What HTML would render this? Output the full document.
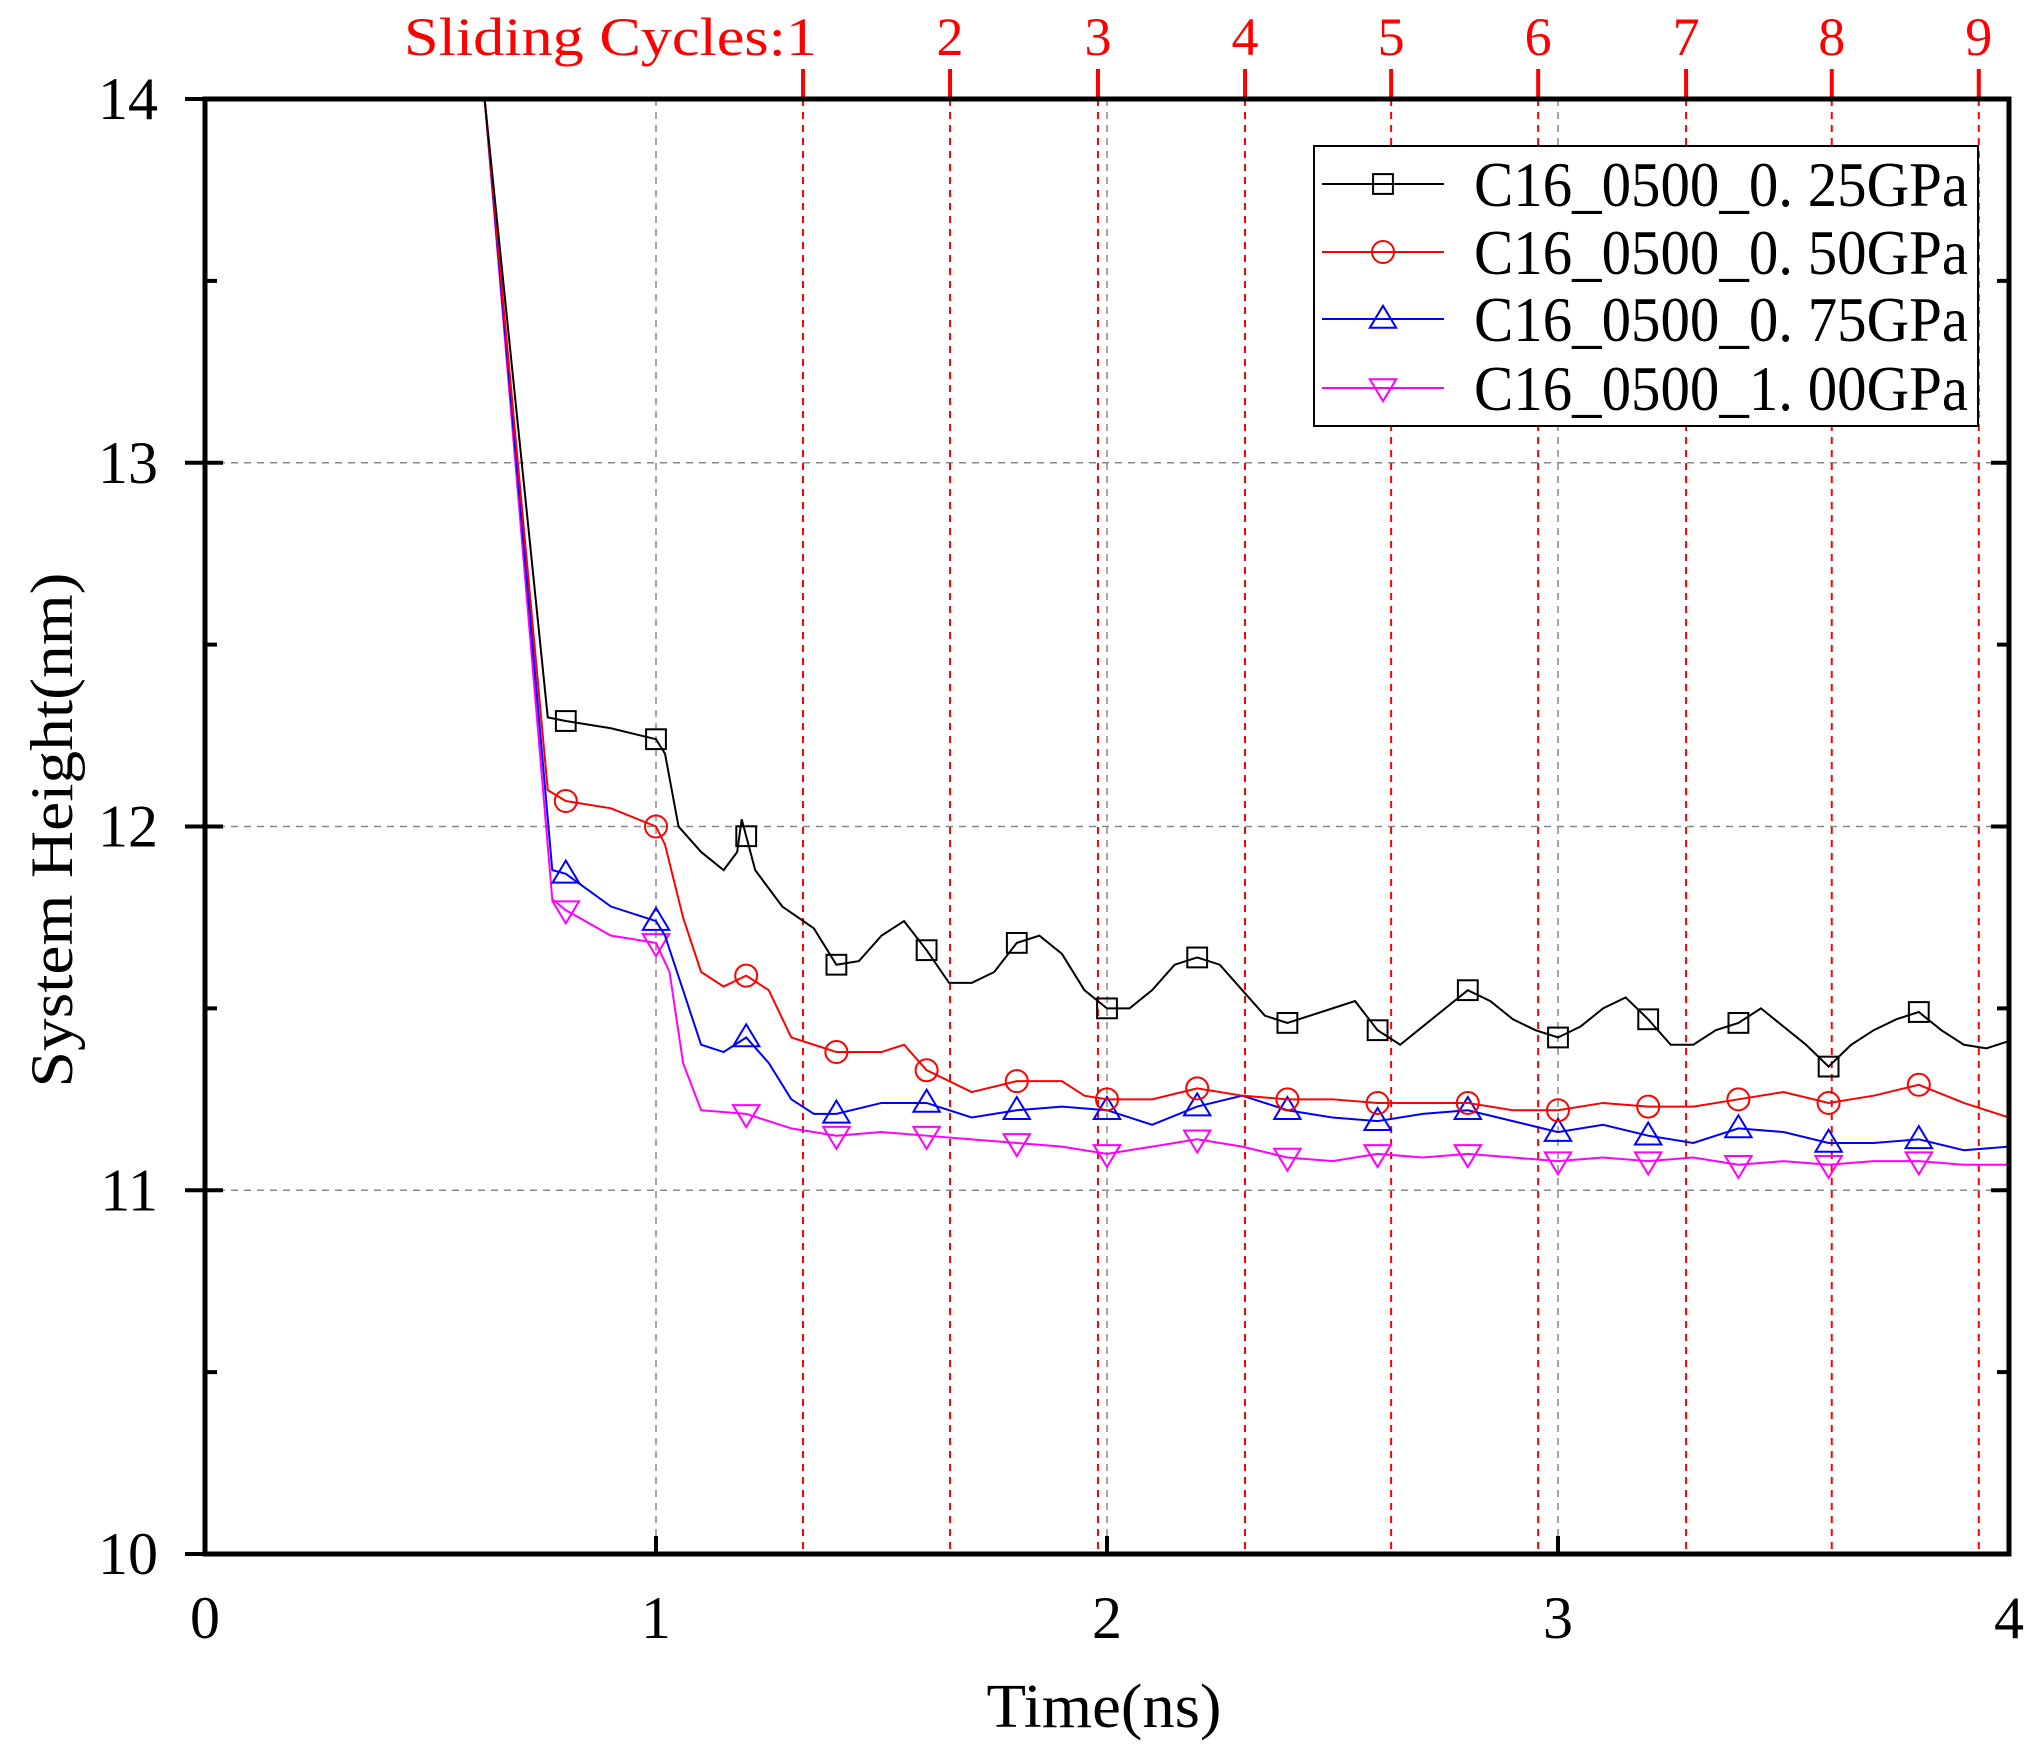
<!DOCTYPE html>
<html><head><meta charset="utf-8"><style>
html,body{margin:0;padding:0;background:#fff;}
svg{display:block;}
text{font-family:"Liberation Serif","Noto Serif CJK SC",serif;}
</style></head><body>
<svg id="chart" width="2044" height="1764" viewBox="0 0 2044 1764" xmlns="http://www.w3.org/2000/svg"></svg>
<script>
const xTicks=[0,1,2,3,4];
const yTicks=[10,11,12,13,14];
const cycleTimes=[1.326,1.652,1.98,2.306,2.63,2.956,3.284,3.607,3.933];
const cycleLabels=["Sliding Cycles:1","2","3","4","5","6","7","8","9"];
const seriesNames=["C16_0500_0. 25GPa","C16_0500_0. 50GPa","C16_0500_0. 75GPa","C16_0500_1. 00GPa"];
const markerTimes=[0.8,1.0,1.2,1.4,1.6,1.8,2.0,2.2,2.4,2.6,2.8,3.0,3.2,3.4,3.6,3.8];
const tBlack=[0.62,0.76,0.8,0.9,1.0,1.02,1.05,1.1,1.15,1.18,1.19,1.22,1.28,1.35,1.4,1.45,1.5,1.55,1.6,1.65,1.7,1.75,1.8,1.85,1.9,1.95,2.0,2.05,2.1,2.15,2.2,2.25,2.3,2.35,2.4,2.45,2.5,2.55,2.6,2.65,2.7,2.75,2.8,2.85,2.9,2.95,3.0,3.05,3.1,3.15,3.2,3.25,3.3,3.35,3.4,3.45,3.5,3.55,3.6,3.65,3.7,3.75,3.8,3.85,3.9,3.95,4.0];
const hBlack=[14,12.3,12.29,12.27,12.24,12.2,12.0,11.93,11.88,11.93,12.02,11.88,11.78,11.72,11.62,11.63,11.7,11.74,11.66,11.57,11.57,11.6,11.68,11.7,11.65,11.55,11.5,11.5,11.55,11.62,11.64,11.62,11.55,11.48,11.46,11.48,11.5,11.52,11.44,11.4,11.45,11.5,11.55,11.52,11.47,11.44,11.42,11.45,11.5,11.53,11.47,11.4,11.4,11.44,11.46,11.5,11.45,11.4,11.34,11.4,11.44,11.47,11.49,11.44,11.4,11.39,11.41];
const tRed=[0.62,0.76,0.8,0.9,1.0,1.02,1.06,1.1,1.15,1.2,1.25,1.3,1.35,1.4,1.5,1.55,1.6,1.65,1.7,1.8,1.9,1.95,2.0,2.1,2.2,2.3,2.4,2.5,2.6,2.7,2.8,2.9,3.0,3.1,3.2,3.3,3.4,3.5,3.6,3.7,3.8,3.9,4.0];
const hRed=[14,12.1,12.07,12.05,12.0,11.95,11.75,11.6,11.56,11.59,11.55,11.42,11.4,11.38,11.38,11.4,11.33,11.3,11.27,11.3,11.3,11.26,11.25,11.25,11.28,11.26,11.25,11.25,11.24,11.24,11.24,11.22,11.22,11.24,11.23,11.23,11.25,11.27,11.24,11.26,11.29,11.24,11.2];
const tBlue=[0.62,0.77,0.8,0.9,1.0,1.02,1.06,1.1,1.15,1.2,1.25,1.3,1.35,1.4,1.5,1.6,1.7,1.8,1.9,2.0,2.1,2.2,2.3,2.4,2.5,2.6,2.7,2.8,2.9,3.0,3.1,3.2,3.3,3.4,3.5,3.6,3.7,3.8,3.9,4.0];
const hBlue=[14,11.88,11.87,11.78,11.74,11.7,11.55,11.4,11.38,11.42,11.35,11.25,11.21,11.21,11.24,11.24,11.2,11.22,11.23,11.22,11.18,11.23,11.26,11.22,11.2,11.19,11.21,11.22,11.19,11.16,11.18,11.15,11.13,11.17,11.16,11.13,11.13,11.14,11.11,11.12];
const tMag=[0.62,0.77,0.8,0.9,1.0,1.03,1.06,1.1,1.2,1.3,1.4,1.5,1.6,1.7,1.8,1.9,2.0,2.1,2.2,2.3,2.4,2.5,2.6,2.7,2.8,2.9,3.0,3.1,3.2,3.3,3.4,3.5,3.6,3.7,3.8,3.9,4.0];
const hMag=[14,11.8,11.77,11.7,11.68,11.6,11.35,11.22,11.21,11.17,11.15,11.16,11.15,11.14,11.13,11.12,11.1,11.12,11.14,11.12,11.09,11.08,11.1,11.09,11.1,11.09,11.08,11.09,11.08,11.09,11.07,11.08,11.07,11.08,11.08,11.07,11.07];

const L=205,R=2009,T=99,B=1554;
const X=t=>L+(t-0)/(4-0)*(R-L);
const Y=h=>B-(h-10)/(14-10)*(B-T);
const svg=document.getElementById('chart');
const NS='http://www.w3.org/2000/svg';
function mk(tag,attrs,parent){const e=document.createElementNS(NS,tag);for(const k in attrs)e.setAttribute(k,attrs[k]);(parent||svg).appendChild(e);return e;}
function interp(ts,hs,t){for(let i=1;i<ts.length;i++){if(t<=ts[i]){const f=(t-ts[i-1])/(ts[i]-ts[i-1]);return hs[i-1]+f*(hs[i]-hs[i-1]);}}return hs[hs.length-1];}

[11,12,13].forEach(v=>{const g=mk('line',{x1:L,x2:R,y1:Y(v),y2:Y(v),stroke:'#888','stroke-width':1.5,'stroke-dasharray':'7,6'});

});
[1,2,3].forEach(v=>{const g=mk('line',{x1:X(v),x2:X(v),y1:T,y2:B,stroke:'#888','stroke-width':1.5,'stroke-dasharray':'7,6'});

});
cycleTimes.forEach((c,i)=>{
const l=mk('line',{x1:X(c),x2:X(c),y1:T,y2:B,stroke:'#f00','stroke-width':2,'stroke-dasharray':'7,6'});


const tk=mk('line',{x1:X(c),x2:X(c),y1:T-30,y2:T,stroke:'#f00','stroke-width':4});


const a={x:i===0?X(c)+14:X(c),y:55,'text-anchor':i===0?'end':'middle','font-size':54,fill:'#f00'};
if(i===0){a.textLength=413;a.lengthAdjust='spacingAndGlyphs';}
const tx=mk('text',a);
tx.textContent=cycleLabels[i];


});

const colors=['#000','#f00','#00f','#f0f'];
const TS=[tBlack,tRed,tBlue,tMag],HS=[hBlack,hRed,hBlue,hMag];
const clip=mk('clipPath',{id:'pc'});mk('rect',{x:L,y:T,width:R-L,height:B-T},clip);
function marker(k,x,y,g){
 const s=11;let m;
 if(k===0)m=mk('rect',{x:x-s*0.9,y:y-s*0.9,width:s*1.8,height:s*1.8,fill:'none',stroke:colors[k],'stroke-width':2},g);
 else if(k===1)m=mk('circle',{cx:x,cy:y,r:s,fill:'none',stroke:colors[k],'stroke-width':2},g);
 else if(k===2)m=mk('polygon',{points:`${x},${y-s*1.2} ${x-s*1.2},${y+s*0.8} ${x+s*1.2},${y+s*0.8}`,fill:'none',stroke:colors[k],'stroke-width':2},g);
 else m=mk('polygon',{points:`${x},${y+s*1.2} ${x-s*1.2},${y-s*0.8} ${x+s*1.2},${y-s*0.8}`,fill:'none',stroke:colors[k],'stroke-width':2},g);
 return m;
}
for(let k=3;k>=0;k--){
 const g=mk('g',{'clip-path':'url(#pc)'});
 
 
 const p=mk('polyline',{points:TS[k].map((t,i)=>X(t)+','+Y(HS[k][i])).join(' '),fill:'none',stroke:colors[k],'stroke-width':2},g);
 
 
 markerTimes.forEach(t=>{const m=marker(k,X(t),Y(interp(TS[k],HS[k],t)),g);
 
 });
}

const fr=mk('rect',{x:L,y:T,width:R-L,height:B-T,fill:'none',stroke:'#000','stroke-width':5});


for(let v=10;v<=14;v+=0.5){
 const len=(v%1===0)?18:12;
 const a=mk('line',{x1:L-(v%1===0?20:0),x2:L+len,y1:Y(v),y2:Y(v),stroke:'#000','stroke-width':4});
 
 
 const b=mk('line',{x1:R-len,x2:R,y1:Y(v),y2:Y(v),stroke:'#000','stroke-width':4});
 
 
}
yTicks.forEach(v=>{const t=mk('text',{x:158,y:Y(v)+20,'text-anchor':'end','font-size':60});t.textContent=v;

});
xTicks.forEach(v=>{
 const a=mk('line',{x1:X(v),x2:X(v),y1:B-18,y2:B,stroke:'#000','stroke-width':4});
 
 
 const t=mk('text',{x:X(v),y:1638,'text-anchor':'middle','font-size':60});t.textContent=v;
 
 });
const xt=mk('text',{x:1104,y:1727,'text-anchor':'middle','font-size':62,textLength:235,lengthAdjust:'spacingAndGlyphs'});xt.textContent='Time(ns)';


const yt=mk('text',{x:0,y:0,'text-anchor':'middle','font-size':60,textLength:515,lengthAdjust:'spacingAndGlyphs',transform:'translate(72,830) rotate(-90)'});yt.textContent='System Height(nm)';



const lg=mk('g',{});


mk('rect',{x:1314,y:146,width:664,height:280,fill:'#fff',stroke:'#000','stroke-width':2},lg);
const ly=[184,252,319,388];
seriesNames.forEach((n,k)=>{
 const e=mk('g',{},lg);
 
 
 mk('line',{x1:1322,x2:1444,y1:ly[k],y2:ly[k],stroke:colors[k],'stroke-width':2},e);
 marker(k,1383,ly[k],e);
 const t=mk('text',{x:1474,y:ly[k]+22,'font-size':64,textLength:494,lengthAdjust:'spacingAndGlyphs'},e);t.textContent=n;
 
 
});
</script>
</body></html>
